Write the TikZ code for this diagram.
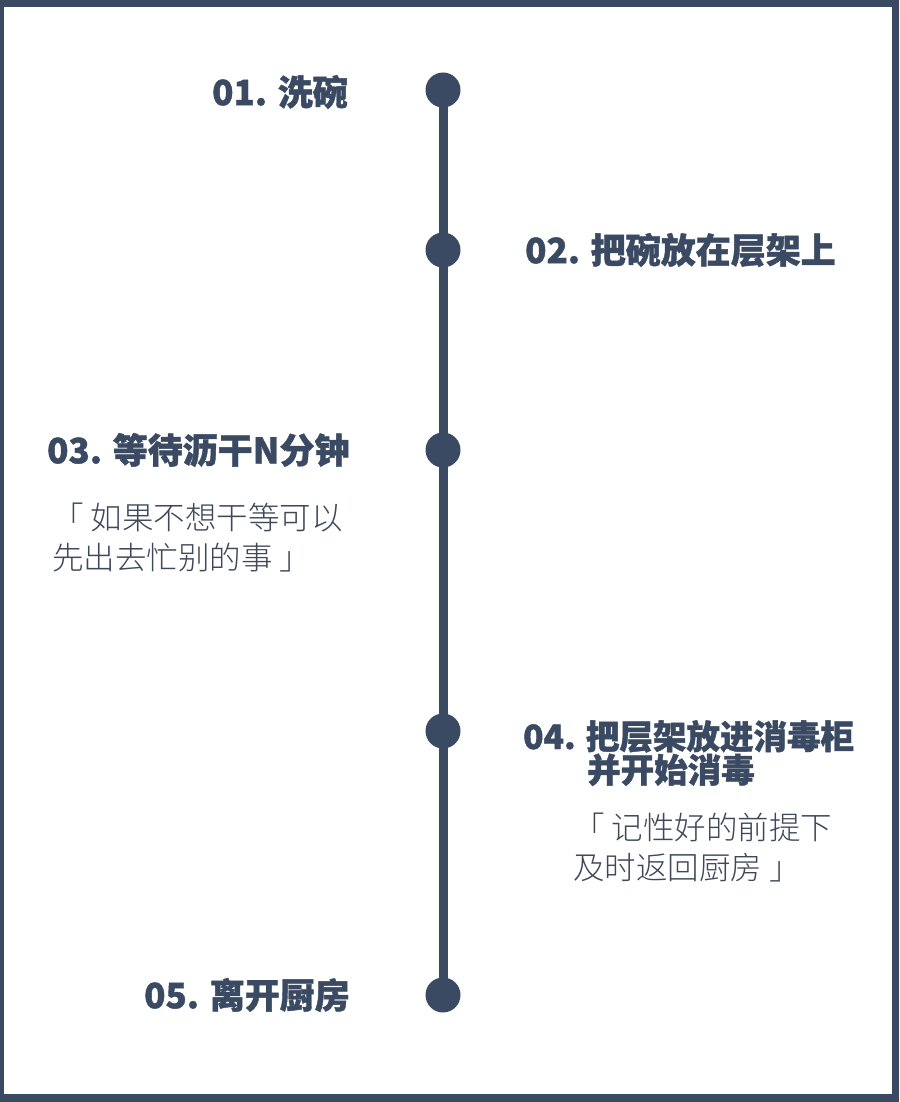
\documentclass[tikz,border=0pt]{standalone}
\usepackage{fontspec}
\newfontfamily\cjkb{Noto Sans CJK SC}[UprightFont=* Black,FakeBold=1.2]
\newfontfamily\cjkl{Noto Sans CJK SC}[UprightFont=* Light]
\definecolor{navy}{HTML}{3B4A63}
\definecolor{notec}{HTML}{3E4859}
\begin{document}
\begin{tikzpicture}[x=1pt,y=-1pt,
  dot/.style={circle,fill=navy,draw=none,minimum size=35pt,inner sep=0pt},
  title/.style={inner sep=0pt,text=navy,font=\cjkb\fontsize{35}{35}\selectfont},
  note/.style={inner sep=0pt,text=notec,align=left,font=\cjkl\fontsize{31.5}{40}\selectfont}]
\useasboundingbox (0,0) rectangle (899,1102);
\fill[navy] (0,0) rectangle (899,1102);
\fill[white] (4,7) rectangle (892,1094);
\node[dot] (d1) at (443,90) {};
\node[dot] (d2) at (443,250) {};
\node[dot] (d3) at (443,450) {};
\node[dot] (d4) at (443,731) {};
\node[dot] (d5) at (443,995) {};
\draw[navy,line width=9pt] (d1.center) -- (d5.center);
\node[title,anchor=east] (t1) at (348,92) {01. 洗碗};
\node[title,anchor=west] (t2) at (525,250) {02. 把碗放在层架上};
\node[title,anchor=west] (t3) at (47,450) {03. 等待沥干N分钟};
\node[note,anchor=north west] (n3) at (52,503) {「 如果不想干等可以\\先出去忙别的事 」};
\node[title,anchor=north west,align=left,font=\cjkb\fontsize{33.5}{32}\selectfont] (t4) at (523,720) {04. 把层架放进消毒柜\\\hspace*{64pt}并开始消毒};
\node[note,anchor=north west] (n4) at (573,813) {「 记性好的前提下\\及时返回厨房 」};
\node[title,anchor=east] (t5) at (350,995) {05. 离开厨房};
\end{tikzpicture}
\end{document}
